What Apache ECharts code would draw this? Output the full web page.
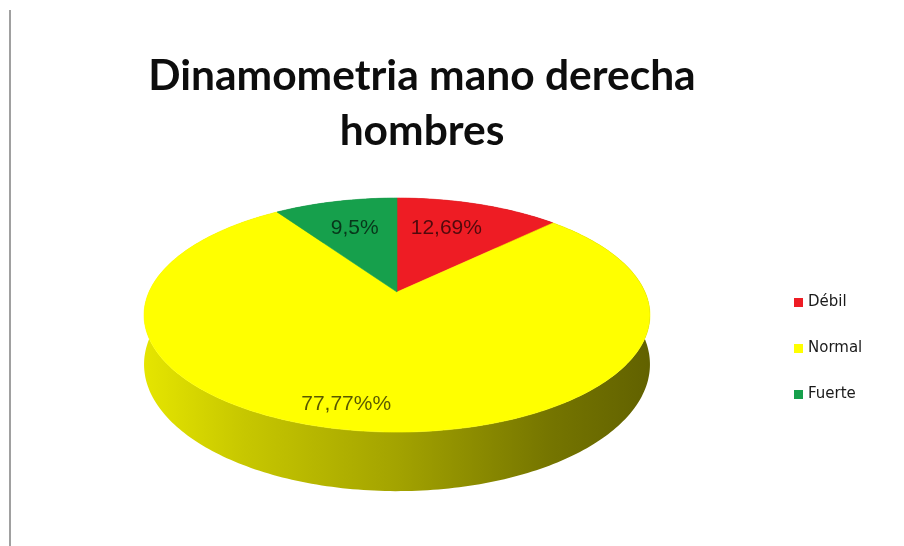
<!DOCTYPE html>
<html>
<head>
<meta charset="utf-8">
<script src="https://cdn.jsdelivr.net/npm/echarts@6/dist/echarts.min.js"></script>
<style>
  html, body { margin: 0; padding: 0; background: #ffffff; }
  #chart { width: 904px; height: 546px; }
</style>
</head>
<body>
<div id="chart"></div>
<script>
// Grip-strength groups, right hand, men
const categories = ['Débil', 'Normal', 'Fuerte'];
const percentages = [12.69, 77.77, 9.5];
const valueLabels = ['12,69%', '77,77%%', '9,5%'];
const sliceColors = ['#ee1c24', '#ffff00', '#16a04c'];

// Tilted disc seen in perspective: centre, radius, vertical squash, perspective factor, wall height
const disc = { cx: 397, cy: 292, R: 248, B: 112.5, k: 0.197, H: 47.4 };
const labelRadius = 0.72;
const labelNudge = [[-12, 2], [-30, 18], [4, 4]];

const total = percentages.reduce((a, b) => a + b, 0);
const starts = [];
percentages.reduce((acc, v) => { starts.push(acc); return acc + v; }, 0);

// angle measured clockwise from 12 o'clock, r in [0,1], dz = 0 top face, 1 bottom edge
function project(theta, r, dz) {
  const d = r * Math.cos(theta);
  const s = r * Math.sin(theta);
  const f = 1 / (1 + disc.k * d);
  return [disc.cx + disc.R * s * f, disc.cy - disc.B * d * f + dz * disc.H * f];
}

function arcPoints(a0, a1, r, dz) {
  const n = Math.max(2, Math.ceil((a1 - a0) / (Math.PI / 180)));
  const pts = [];
  for (let i = 0; i <= n; i++) pts.push(project(a0 + (a1 - a0) * i / n, r, dz));
  return pts;
}

function shade(hex, f) {
  const n = parseInt(hex.slice(1), 16);
  const c = [(n >> 16) & 255, (n >> 8) & 255, n & 255].map(x => Math.round(x * f));
  return 'rgb(' + c.join(',') + ')';
}

function angles(api) {
  const start = api.value(0), v = api.value(1);
  return [start / total * 2 * Math.PI, (start + v) / total * 2 * Math.PI];
}

function renderWall(params, api) {
  const [a0, a1] = angles(api);
  const color = sliceColors[api.value(2)];
  const top = arcPoints(a0, a1, 1, 0);
  const bottom = arcPoints(a0, a1, 1, 1).reverse();
  const x0 = disc.cx - disc.R * 1.03, x1 = disc.cx + disc.R * 1.03;
  const fill = new echarts.graphic.LinearGradient(x0, 0, x1, 0, [
    { offset: 0, color: shade(color, 0.9) },
    { offset: 0.2, color: shade(color, 0.78) },
    { offset: 0.5, color: shade(color, 0.64) },
    { offset: 0.8, color: shade(color, 0.46) },
    { offset: 1, color: shade(color, 0.38) }
  ], true);
  return {
    type: 'polygon',
    shape: { points: top.concat(bottom) },
    style: { fill: fill, stroke: null }
  };
}

function renderTop(params, api) {
  const [a0, a1] = angles(api);
  const i = api.value(2);
  const color = sliceColors[i];
  const pts = [project(0, 0, 0)].concat(arcPoints(a0, a1, 1, 0));
  const lp = project((a0 + a1) / 2, labelRadius, 0);
  return {
    type: 'group',
    children: [
      {
        type: 'polygon',
        shape: { points: pts },
        style: { fill: color, stroke: color, lineWidth: 0.6 }
      },
      {
        type: 'text',
        x: lp[0] + labelNudge[i][0],
        y: lp[1] + labelNudge[i][1],
        style: {
          text: valueLabels[i],
          align: 'center',
          verticalAlign: 'middle',
          font: '21px "Liberation Sans"',
          fill: 'rgba(0,0,0,0.66)'
        }
      }
    ]
  };
}

const series = [{
  name: 'pared',
  type: 'custom',
  coordinateSystem: 'none',
  z: 1,
  silent: true,
  renderItem: renderWall,
  data: percentages.map((v, i) => [starts[i], v, i])
}].concat(categories.map((name, i) => ({
  name: name,
  type: 'custom',
  coordinateSystem: 'none',
  z: 2,
  itemStyle: { color: sliceColors[i] },
  renderItem: renderTop,
  data: [[starts[i], percentages[i], i]]
})));

const chart = echarts.init(document.getElementById('chart'), null, { renderer: 'canvas' });
chart.setOption({
  backgroundColor: '#ffffff',
  animation: false,
  legend: {
    data: categories,
    orient: 'vertical',
    left: 789,
    top: 290,
    itemWidth: 9,
    itemHeight: 9,
    itemGap: 31,
    icon: 'rect',
    selectedMode: false,
    textStyle: { fontFamily: 'DejaVu Sans', fontSize: 15, color: '#1a1a1a' }
  },
  graphic: [
    {
      type: 'line',
      shape: { x1: 10, y1: 10, x2: 10, y2: 546 },
      style: { stroke: '#a0a0a0', lineWidth: 2 }
    },
    {
      type: 'text',
      x: 422,
      y: 49,
      style: {
        text: 'Dinamometria mano derecha\nhombres',
        align: 'center',
        verticalAlign: 'top',
        font: 'bold 42.5px Lato',
        lineHeight: 55,
        fill: '#0d0d0d'
      }
    }
  ],
  series: series
});
</script>
</body>
</html>
